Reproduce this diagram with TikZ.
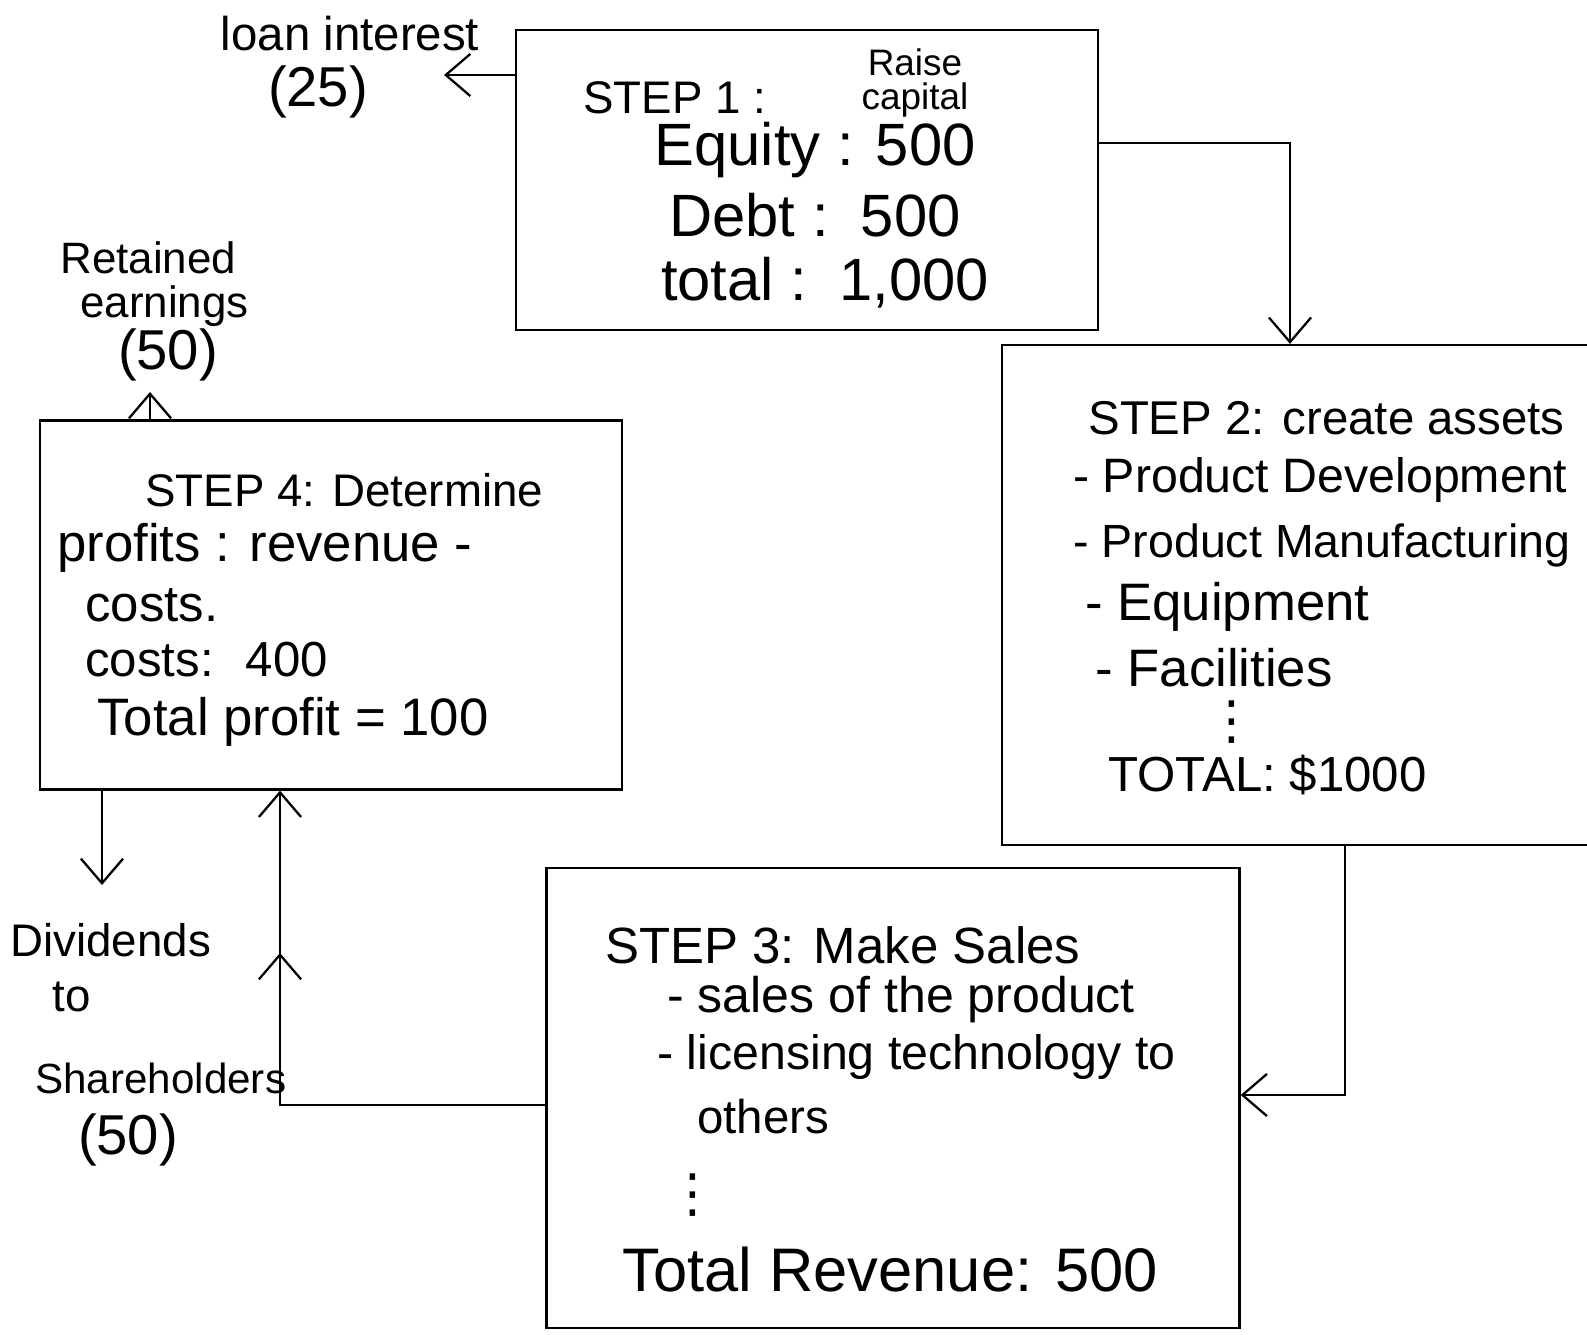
\documentclass[tikz,border=0pt]{standalone}
\usepackage{fontspec}
\setmainfont{Liberation Sans}
\newfontfamily\dejavu{DejaVu Sans}
\usetikzlibrary{arrows.meta,decorations.markings}
\begin{document}
\begin{tikzpicture}[x=0.02cm,y=-0.02cm,
  box/.style={draw,line width=1.3pt,inner sep=0pt},
  txt/.style={anchor=west,inner sep=0pt,font=\fontsize{26}{30}\selectfont},
  ctxt/.style={anchor=center,inner sep=0pt,font=\fontsize{26}{30}\selectfont},
  dots/.style={anchor=center,inner sep=0pt,font=\dejavu\fontsize{30}{30}\selectfont},
  conn/.style={line width=1.3pt,-{Straight Barb[length=14pt,width=24pt,line width=1.3pt]}},
  midarrow/.style={postaction={decorate},decoration={markings,mark=at position 0.72 with {\arrow{Straight Barb[length=14pt,width=24pt,line width=1.3pt]}}}}
]
\useasboundingbox (0,0) rectangle (1587,1335);
% boxes
\node[box,minimum width=582*0.02cm,minimum height=300*0.02cm] (s1) at (807,180) {};
\node[box,minimum width=600*0.02cm,minimum height=500*0.02cm] (s2) at (1302,595) {};
\node[box,minimum width=693*0.02cm,minimum height=460*0.02cm] (s3) at (893,1098) {};
\node[box,minimum width=582*0.02cm,minimum height=369*0.02cm] (s4) at (331,605) {};
% step 1 text
\node[txt,font=\fontsize{26}{30}\selectfont] (s1a) at (583,98) {STEP 1 :};
\node[ctxt,font=\fontsize{21}{24}\selectfont] (s1b) at (915,62) {Raise};
\node[ctxt,font=\fontsize{21}{24}\selectfont] (s1c) at (915,100) {capital};
\node[ctxt,font=\fontsize{34}{36}\selectfont] (s1d) at (815,150) {Equity : 500};
\node[ctxt,font=\fontsize{34}{36}\selectfont] (s1e) at (815,215) {Debt : \,500};
\node[ctxt,font=\fontsize{34}{36}\selectfont] (s1f) at (825,283) {total : \,1,000};
% step 2 text
\node[txt,font=\fontsize{27}{30}\selectfont] (s2a) at (1088,418) {STEP 2: create assets};
\node[txt,font=\fontsize{27.5}{30}\selectfont] (s2b) at (1073,480) {- Product Development};
\node[txt,font=\fontsize{26.5}{30}\selectfont] (s2c) at (1073,545) {- Product Manufacturing};
\node[txt,font=\fontsize{30}{30}\selectfont] (s2d) at (1085,607) {- Equipment};
\node[txt,font=\fontsize{30}{30}\selectfont] (s2e) at (1095,668) {- Facilities};
\node[dots] (s2f) at (1232,722) {⋮};
\node[txt,font=\fontsize{28}{30}\selectfont] (s2g) at (1108,775) {TOTAL: \$1000};
% step 3 text
\node[txt,font=\fontsize{29}{32}\selectfont] (s3a) at (605,945) {STEP 3: Make Sales};
\node[txt,font=\fontsize{28.5}{30}\selectfont] (s3b) at (667,1000) {- sales of the product};
\node[txt,font=\fontsize{27.5}{30}\selectfont] (s3c) at (657,1057) {- licensing technology to};
\node[txt,font=\fontsize{27}{30}\selectfont] (s3d) at (697,1117) {others};
\node[dots] (s3e) at (693,1195) {⋮};
\node[txt,font=\fontsize{35}{38}\selectfont] (s3f) at (622,1270) {Total Revenue: 500};
% step 4 text
\node[txt,font=\fontsize{26}{30}\selectfont] (s4a) at (145,490) {STEP 4: Determine};
\node[txt,font=\fontsize{30}{30}\selectfont] (s4b) at (57,548) {profits : revenue -};
\node[txt,font=\fontsize{29}{30}\selectfont] (s4c) at (85,605) {costs.};
\node[txt,font=\fontsize{28}{30}\selectfont] (s4d) at (85,660) {costs: \ 400};
\node[txt,font=\fontsize{30}{30}\selectfont] (s4e) at (97,722) {Total profit = 100};
% outside labels
\node[ctxt,font=\fontsize{27}{30}\selectfont] (li) at (350,34) {loan interest};
\node[ctxt,font=\fontsize{32}{36}\selectfont] (li2) at (318,92) {(25)};
\node[txt,font=\fontsize{25}{30}\selectfont] (re1) at (60,258) {Retained};
\node[txt,font=\fontsize{25}{30}\selectfont] (re2) at (80,306) {earnings};
\node[ctxt,font=\fontsize{32}{36}\selectfont] (re3) at (168,355) {(50)};
\node[txt] (dv1) at (10,940) {Dividends};
\node[txt] (dv2) at (52,997) {to};
\node[txt,font=\fontsize{24}{30}\selectfont] (dv3) at (35,1078) {Shareholders};
\node[ctxt,font=\fontsize{32}{36}\selectfont] (dv4) at (128,1140) {(50)};
% coordinates
\coordinate (c12) at (1290,143);
\coordinate (c23) at (1345,1095);
\coordinate (c34) at (280,1105);
\coordinate (liend) at (444,75);
\coordinate (reend) at (150,392);
\coordinate (dvend) at (102,885);
% connectors
\draw[conn] (s1.west|-liend) -- (liend);
\draw[conn] (s1.east|-c12) -- (c12) -- (c12|-s2.north);
\draw[conn] (c23|-s2.south) -- (c23) -- (s3.east|-c23);
\draw[conn,midarrow] (s3.west|-c34) -- (c34) -- (c34|-s4.south);
\draw[conn] (reend|-s4.north) -- (reend);
\draw[conn] (dvend|-s4.south) -- (dvend);
\end{tikzpicture}
\end{document}
